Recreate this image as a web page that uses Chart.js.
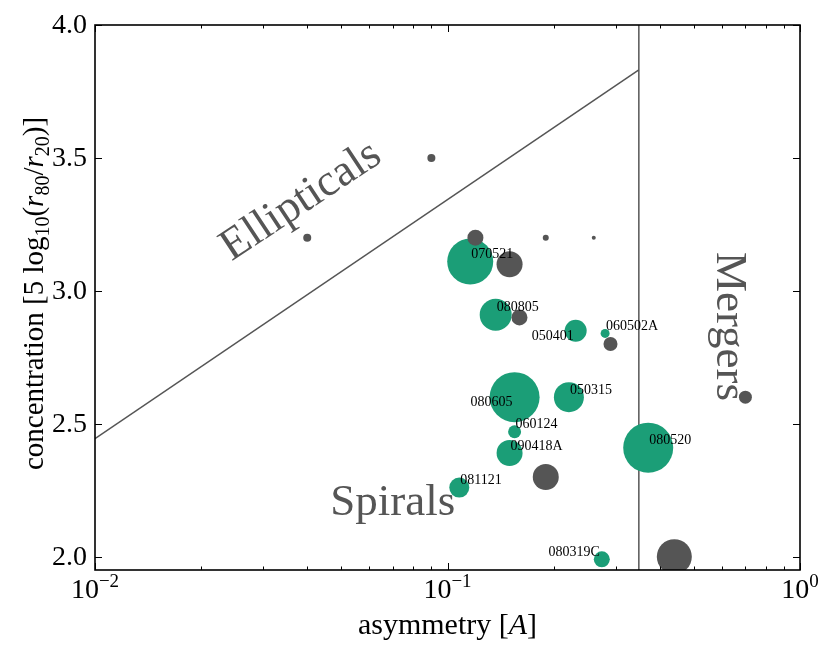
<!DOCTYPE html>
<html>
<head>
<meta charset="utf-8">
<script src="https://cdn.jsdelivr.net/npm/chart.js@4"></script>
<style>
  html, body { margin: 0; padding: 0; background: #fff; }
  #wrap { width: 830px; height: 656px; }
</style>
</head>
<body>
<div id="wrap"><canvas id="chart" width="830" height="656"></canvas></div>
<script>
// GRB hosts (green) - asymmetry, concentration, bubble size
var grnName = ["070521", "080805", "050401", "060502A", "080605", "050315", "060124", "090418A", "081121", "080520", "080319C"];
var grnAsym = [0.116, 0.137, 0.231, 0.280, 0.155, 0.221, 0.155, 0.150, 0.108, 0.371, 0.274];
var grnConc = [3.11, 2.91, 2.85, 2.84, 2.60, 2.60, 2.47, 2.39, 2.26, 2.41, 1.99];
var grnSize = [23, 16, 11, 4.5, 25, 15, 6.5, 13, 10, 25, 8];

// comparison galaxies (grey)
var gryAsym = [0.04, 0.09, 0.12, 0.19, 0.26, 0.15, 0.16, 0.29, 0.19, 0.44, 0.70];
var gryConc = [3.2, 3.5, 3.2, 3.2, 3.2, 3.1, 2.9, 2.8, 2.3, 2.0, 2.6];
var grySize = [4, 4, 8, 3, 2, 13, 8, 7, 13, 17.5, 6.5];

// dividing lines
var diagAsym = [0.01, 0.349];
var diagConc = [2.444, 3.831];
var vertAsym = [0.349, 0.349];
var vertConc = [1.95, 4.0];

// axes
var xMin = 0.01, xMax = 1, yMin = 1.95, yMax = 4.0;
var xTicks = [0.01, 0.1, 1];
var xTickExp = ["\u22122", "\u22121", "0"];
var xMinor = [0.02, 0.03, 0.04, 0.05, 0.06, 0.07, 0.08, 0.09, 0.2, 0.3, 0.4, 0.5, 0.6, 0.7, 0.8, 0.9];
var yTicks = [2.0, 2.5, 3.0, 3.5, 4.0];

// region names, placed in data coordinates
var regions = [
  { text: "Ellipticals", x: 0.0401, y: 3.30, rot: -33.5, align: "center", size: 45 },
  { text: "Spirals", x: 0.0465, y: 2.158, rot: 0, align: "left", size: 45 },
  { text: "Mergers", x: 0.581, y: 2.866, rot: 90, align: "center", size: 45 }
];
// labels that sit below-left of their bubble
var labelBelow = ["050401", "080605"];
var labelLeft = ["050401", "080605", "080319C"];

var GREEN = "#1b9e77";
var GREY = "#555555";
var SERIF = "'Liberation Serif', 'DejaVu Serif', serif";

function pts(xs, ys, rs) {
  return xs.map(function(x, i) {
    var p = { x: x, y: ys[i] };
    if (rs) p.r = rs[i];
    return p;
  });
}

// draw a run of text pieces (text, font, dy) as one line
function richText(ctx, parts, x, y, align) {
  var w = 0;
  parts.forEach(function(p) { ctx.font = p[1]; w += ctx.measureText(p[0]).width; });
  var cx = align === "center" ? x - w / 2 : x;
  ctx.textAlign = "left";
  ctx.textBaseline = "alphabetic";
  parts.forEach(function(p) {
    ctx.font = p[1];
    ctx.fillText(p[0], cx, y + (p[2] || 0));
    cx += ctx.measureText(p[0]).width;
  });
}

var decorations = {
  id: "decorations",
  afterDatasetsDraw: function(chart) {
    var ctx = chart.ctx;
    var a = chart.chartArea;
    var xs = chart.scales.x, ys = chart.scales.y;
    ctx.save();

    // point labels
    ctx.fillStyle = "#000";
    ctx.font = "14px " + SERIF;
    ctx.textBaseline = "middle";
    var meta = chart.getDatasetMeta(1);
    grnName.forEach(function(name, i) {
      var el = meta.data[i];
      var left = labelLeft.indexOf(name) >= 0;
      var below = labelBelow.indexOf(name) >= 0;
      ctx.textAlign = left ? "right" : "left";
      ctx.fillText(name, el.x + (left ? -2 : 1), el.y + (below ? 5.5 : -7));
    });

    // region names
    ctx.fillStyle = GREY;
    ctx.textBaseline = "alphabetic";
    regions.forEach(function(r) {
      ctx.save();
      ctx.font = r.size + "px " + SERIF;
      ctx.translate(xs.getPixelForValue(r.x), ys.getPixelForValue(r.y));
      ctx.rotate(r.rot * Math.PI / 180);
      ctx.textAlign = r.align;
      ctx.fillText(r.text, 0, 0);
      ctx.restore();
    });

    // frame
    ctx.strokeStyle = "#000";
    ctx.lineWidth = 1.6;
    ctx.strokeRect(a.left, a.top, a.right - a.left, a.bottom - a.top);

    // ticks, pointing inwards on all four sides
    ctx.lineWidth = 1;
    ctx.beginPath();
    xTicks.concat(xMinor).forEach(function(v, i) {
      var len = i < xTicks.length ? 7 : 3.5;
      var px = Math.round(xs.getPixelForValue(v)) + 0.5;
      ctx.moveTo(px, a.bottom); ctx.lineTo(px, a.bottom - len);
      ctx.moveTo(px, a.top); ctx.lineTo(px, a.top + len);
    });
    yTicks.forEach(function(v) {
      var py = Math.round(ys.getPixelForValue(v)) + 0.5;
      ctx.moveTo(a.left, py); ctx.lineTo(a.left + 7, py);
      ctx.moveTo(a.right, py); ctx.lineTo(a.right - 7, py);
    });
    ctx.stroke();

    // tick labels
    ctx.fillStyle = "#000";
    ctx.font = "28px " + SERIF;
    ctx.textAlign = "right";
    ctx.textBaseline = "middle";
    yTicks.forEach(function(v) {
      ctx.fillText(v.toFixed(1), a.left - 8, ys.getPixelForValue(v) + 1);
    });
    xTicks.forEach(function(v, i) {
      richText(ctx, [["10", "28px " + SERIF, 0], [xTickExp[i], "19px " + SERIF, -11]],
        xs.getPixelForValue(v), a.bottom + 28, "center");
    });

    // axis titles
    var mid = (a.left + a.right) / 2;
    richText(ctx, [
      ["asymmetry [", "30px " + SERIF, 0],
      ["A", "italic 30px " + SERIF, 0],
      ["]", "30px " + SERIF, 0]
    ], mid, 634, "center");

    ctx.save();
    ctx.translate(43, (a.top + a.bottom) / 2 - 4);
    ctx.rotate(-Math.PI / 2);
    var big = "29px " + SERIF, it = "italic 29px " + SERIF, sub = "20px " + SERIF;
    richText(ctx, [
      ["concentration [5 log", big, 0], ["10", sub, 6], ["(", big, 0],
      ["r", it, 0], ["80", sub, 6], ["/", big, 0],
      ["r", it, 0], ["20", sub, 6], [")]", big, 0]
    ], 0, 0, "center");
    ctx.restore();

    ctx.restore();
  }
};

var ctx = document.getElementById("chart").getContext("2d");

var myChart = new Chart(ctx, {
  type: "bubble",
  data: {
    datasets: [{
      label: "comparison",
      data: pts(gryAsym, gryConc, grySize),
      backgroundColor: GREY,
      borderWidth: 0,
      clip: 0,
      order: 1
    }, {
      label: "GRB hosts",
      data: pts(grnAsym, grnConc, grnSize),
      backgroundColor: GREEN,
      borderWidth: 0,
      clip: 0,
      order: 2
    }, {
      type: "line",
      label: "diagonal",
      data: pts(diagAsym, diagConc),
      borderColor: GREY,
      borderWidth: 1.5,
      pointRadius: 0,
      fill: false,
      order: 3
    }, {
      type: "line",
      label: "vertical",
      data: pts(vertAsym, vertConc),
      borderColor: GREY,
      borderWidth: 1.5,
      pointRadius: 0,
      fill: false,
      order: 3
    }]
  },
  options: {
    responsive: false,
    animation: false,
    layout: { padding: { left: 0, top: 25, right: 30, bottom: 0 } },
    plugins: {
      legend: { display: false },
      tooltip: { enabled: false }
    },
    elements: { point: { hoverRadius: 0 } },
    scales: {
      x: {
        type: "logarithmic",
        min: xMin,
        max: xMax,
        ticks: { display: false },
        grid: { display: false },
        border: { display: false },
        afterFit: function(s) { s.height = 86; }
      },
      y: {
        type: "linear",
        min: yMin,
        max: yMax,
        ticks: { display: false },
        grid: { display: false },
        border: { display: false },
        afterFit: function(s) { s.width = 95; }
      }
    }
  },
  plugins: [decorations]
});
</script>
</body>
</html>
